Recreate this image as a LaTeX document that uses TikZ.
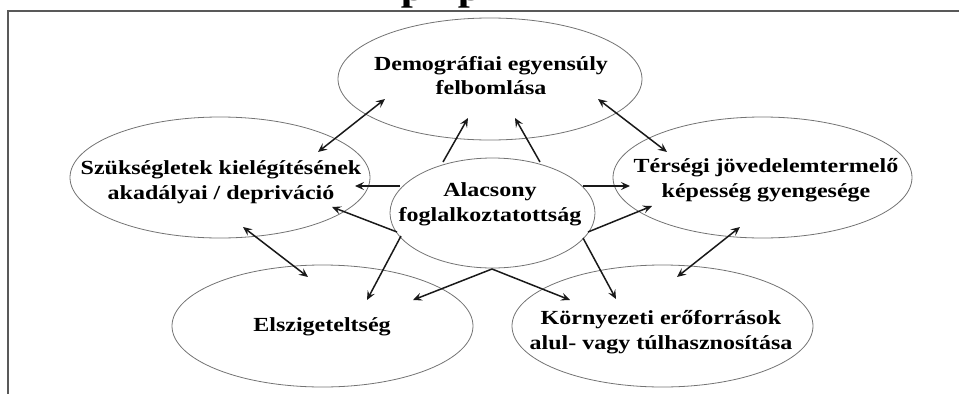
\documentclass[tikz,border=0pt]{standalone}
\usepackage{fontspec}
\setmainfont{Liberation Serif}[FakeStretch=1.2]
\usetikzlibrary{shapes.geometric,arrows.meta}
\begin{document}
\begin{tikzpicture}[x=1pt,y=-1pt,
  bub/.style={ellipse,draw=black!55,line width=0.8pt,inner sep=0pt},
  lbl/.style={font=\fontsize{20}{24.5}\selectfont\bfseries,align=center,text=black,inner sep=0pt},
  arr/.style={-{Stealth[length=9pt,width=8pt,inset=3.5pt]},line width=1.5pt,draw=black!90},
  darr/.style={{Stealth[length=9pt,width=8pt,inset=3.5pt]}-{Stealth[length=9pt,width=8pt,inset=3.5pt]},line width=1.5pt,draw=black!90},
  frameline/.style={draw=black!65,line width=1.5pt}]
\useasboundingbox (0,0) rectangle (959,394);

% frame and cut-off title
\draw[frameline] (959,11) -- (8,11) -- (8,394);
\begin{scope}
  \clip (0,0) rectangle (959,394);
  \node[anchor=base,inner sep=0pt,font=\fontsize{36}{36}\selectfont\bfseries] (tp1) at (413,0.5) {p};
  \node[anchor=base,inner sep=0pt,font=\fontsize{36}{36}\selectfont\bfseries] (tp2) at (470,0.5) {p};
\end{scope}

% ellipses
\node[bub,minimum width=304pt,minimum height=122pt] (demE) at (490,79) {};
\node[bub,minimum width=300pt,minimum height=121pt] (szuE) at (220,177.5) {};
\node[bub,minimum width=299pt,minimum height=121pt] (terE) at (762.5,177.5) {};
\node[bub,minimum width=205pt,minimum height=110pt] (alaE) at (492.5,213) {};
\node[bub,minimum width=301pt,minimum height=122pt] (elsE) at (322.5,326) {};
\node[bub,minimum width=301pt,minimum height=122pt] (korE) at (662.5,326) {};

% texts
\node[lbl] (dem) at (491,75.5) {Demográfiai egyensúly\\felbomlása};
\node[lbl] (szu) at (221,182) {Szükségletek kielégítésének\\akadályai / depriváció};
\node[lbl] (ter) at (766,180) {Térségi jövedelemtermelő\\képesség gyengesége};
\node[lbl] (ala) at (490,204.5) {Alacsony\\foglalkoztatottság};
\node[lbl] (els) at (322,326.5) {Elszigeteltség};
\node[lbl] (kor) at (661,332) {Környezeti erőforrások\\alul- vagy túlhasznosítása};

% connector end points
\coordinate (ds1) at (385,99);   \coordinate (ds2) at (318,152);
\coordinate (dt1) at (598,99);   \coordinate (dt2) at (667,152);
\coordinate (se1) at (243,227);  \coordinate (se2) at (308,277);
\coordinate (tk1) at (740,227);  \coordinate (tk2) at (677,277);
\coordinate (ad1) at (443,162);  \coordinate (da1) at (468,118);
\coordinate (ad2) at (540,162);  \coordinate (da2) at (515,118);
\coordinate (as1) at (400,186);  \coordinate (sa1) at (355,186);
\coordinate (as2) at (397,232);  \coordinate (sa2) at (332,207);
\coordinate (at1) at (583,186);  \coordinate (ta1) at (630,186);
\coordinate (at2) at (588,232);  \coordinate (ta2) at (652,206);
\coordinate (ae1) at (401,236);  \coordinate (ea1) at (367,300);
\coordinate (ab)  at (492,269);
\coordinate (ea2) at (413,300);  \coordinate (ka2) at (570,300);
\coordinate (ak1) at (583,238);  \coordinate (ka1) at (616,299);

% double arrows between outer ellipses
\draw[darr] (ds1) -- (ds2);
\draw[darr] (dt1) -- (dt2);
\draw[darr] (se1) -- (se2);
\draw[darr] (tk1) -- (tk2);

% arrows from the centre
\draw[arr] (ad1) -- (da1);
\draw[arr] (ad2) -- (da2);
\draw[arr] (as1) -- (sa1);
\draw[arr] (as2) -- (sa2);
\draw[arr] (at1) -- (ta1);
\draw[arr] (at2) -- (ta2);
\draw[arr] (ae1) -- (ea1);
\draw[arr] (ab) -- (ea2);
\draw[arr] (ab) -- (ka2);
\draw[arr] (ak1) -- (ka1);
\end{tikzpicture}
\end{document}
